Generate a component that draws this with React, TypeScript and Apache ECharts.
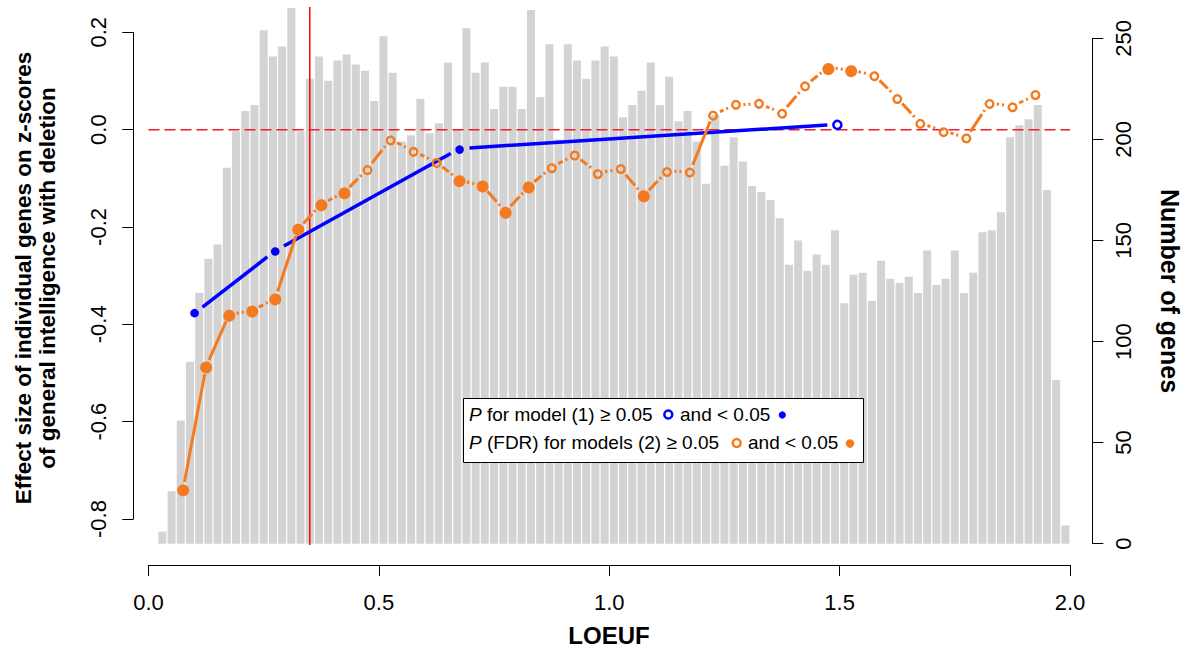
import React, { useEffect, useRef } from "react";
import * as echarts from "echarts";

// Histogram: number of genes per LOEUF bin (bins of 0.02 starting at 0.02)
const binStart = 0.02;
const binWidth = 0.02;
const geneCounts = [
  6, 26, 61, 90, 124, 141, 148, 186, 204, 214,
  217, 254, 241, 246, 265, 204, 230, 241, 229, 239,
  242, 237, 234, 219, 251, 233, 199, 202, 220, 203,
  208, 238, 205, 255, 233, 238, 215, 226, 226, 215,
  264, 221, 247, 200, 247, 239, 230, 239, 246, 241,
  211, 217, 224, 238, 217, 231, 209, 214, 199, 178,
  212, 187, 201, 189, 177, 174, 170, 161, 138, 150,
  135, 143, 138, 155, 119, 133, 134, 120, 140, 131,
  129, 132, 124, 145, 128, 131, 145, 124, 134, 154,
  155, 164, 201, 207, 210, 217, 175, 81, 9,
];

// Model (2): effect sizes per LOEUF bin (orange)
const orangeX = [
  0.075, 0.125, 0.175, 0.225, 0.275, 0.325, 0.375, 0.425, 0.475, 0.525,
  0.575, 0.625, 0.675, 0.725, 0.775, 0.825, 0.875, 0.925, 0.975, 1.025,
  1.075, 1.125, 1.175, 1.225, 1.275, 1.325, 1.375, 1.425, 1.475, 1.525,
  1.575, 1.625, 1.675, 1.725, 1.775, 1.825, 1.875, 1.925,
];
const orangeY = [
  -0.739, -0.487, -0.38, -0.372, -0.347, -0.204, -0.153, -0.129, -0.081, -0.02,
  -0.044, -0.067, -0.104, -0.115, -0.169, -0.117, -0.077, -0.052, -0.089, -0.081,
  -0.136, -0.085, -0.087, 0.031, 0.051, 0.053, 0.035, 0.09, 0.128, 0.122,
  0.112, 0.065, 0.013, -0.002, -0.017, 0.055, 0.048, 0.071,
];
// 1 = FDR P < 0.05 (filled), 0 = not significant (open)
const orangeSig = [
  1, 1, 1, 1, 1, 1, 1, 1, 0, 0,
  0, 0, 1, 1, 1, 1, 0, 0, 0, 0,
  1, 0, 0, 0, 0, 0, 0, 0, 1, 1,
  0, 0, 0, 0, 0, 0, 0, 0,
];

// Model (1): effect sizes (blue)
const blueX = [0.1, 0.275, 0.675, 1.495];
const blueY = [-0.377, -0.249, -0.039, 0.011];
const blueSig = [1, 1, 1, 0];

const refLoeuf = 0.35;
const refEffect = 0;

const xTickLabels = ["0.0", "0.5", "1.0", "1.5", "2.0"];

const FONT = '"Liberation Sans", Arial, Helvetica, sans-serif';
const ORANGE = "#F47A20";
const BLUE = "#0000FF";
const BAR = "#D3D3D3";

type SegOpts = { gap: number; lw: number; rFill: number; rRing: number; ringLw: number; dashShort: boolean };

function makeRender(xs: number[], ys: number[], sig: number[], color: string, o: SegOpts) {
  return (params: any, api: any) => {
    const i = params.dataIndex;
    const p = api.coord([api.value(0), api.value(1)]);
    const children: any[] = [];
    if (i < xs.length - 1) {
      const q = api.coord([xs[i + 1], ys[i + 1]]);
      const dx = q[0] - p[0];
      const dy = q[1] - p[1];
      const len = Math.hypot(dx, dy);
      const ux = dx / len;
      const uy = dy / len;
      const vis = len - 2 * o.gap;
      if (vis > 1) {
        const style: any = { stroke: color, lineWidth: o.lw, lineCap: "butt", fill: "none" };
        if (o.dashShort && vis < 30) style.lineDash = [Math.max(vis - 6, 2), 3, 2, 80];
        children.push({
          type: "line",
          shape: {
            x1: p[0] + ux * o.gap,
            y1: p[1] + uy * o.gap,
            x2: q[0] - ux * o.gap,
            y2: q[1] - uy * o.gap,
          },
          style,
        });
      }
    }
    if (sig[i]) {
      children.push({ type: "circle", shape: { cx: p[0], cy: p[1], r: o.rFill }, style: { fill: color } });
    } else {
      children.push({
        type: "circle",
        shape: { cx: p[0], cy: p[1], r: o.rRing },
        style: { fill: "none", stroke: color, lineWidth: o.ringLw },
      });
    }
    return { type: "group", children };
  };
}

const axisLabelBase = { color: "#000", fontFamily: FONT, fontSize: 22 };

function legendText(x: number, y: number, text: string) {
  return {
    type: "text",
    z: 101,
    x,
    y,
    style: {
      text,
      fontFamily: FONT,
      fontSize: 19,
      fill: "#000",
      verticalAlign: "middle",
      textVerticalAlign: "middle",
      rich: { i: { fontStyle: "italic", fontFamily: FONT, fontSize: 19, fill: "#000" } },
    },
  };
}

export default function App() {
  const ref = useRef<HTMLDivElement>(null);

  useEffect(() => {
    if (!ref.current) return;
    const chart = echarts.init(ref.current, undefined, { renderer: "svg" });

    const gridLeft = 148.5;
    const gridWidth = 921.5;

    const option: any = {
      animation: false,
      backgroundColor: "#fff",
      grid: [
        { left: gridLeft, top: 38.3, width: gridWidth, height: 505.4 },
        { left: gridLeft, top: 32.3, width: gridWidth, height: 486.7 },
        { left: gridLeft, top: 7, width: gridWidth, height: 538 },
      ],
      xAxis: [
        { gridIndex: 0, type: "value", min: 0, max: 2, show: false },
        { gridIndex: 1, type: "value", min: 0, max: 2, show: false },
        {
          gridIndex: 2,
          type: "value",
          min: 0,
          max: 2,
          interval: 0.5,
          position: "bottom",
          offset: 20,
          axisLine: { show: true, onZero: false, lineStyle: { color: "#000", width: 1 } },
          axisTick: { show: true, inside: false, length: 11, lineStyle: { color: "#000", width: 1 } },
          axisLabel: {
            ...axisLabelBase,
            margin: 26,
            formatter: (v: number) => xTickLabels[Math.round(v / 0.5)] ?? v.toFixed(1),
          },
          splitLine: { show: false },
        },
      ],
      yAxis: [
        {
          gridIndex: 0,
          type: "value",
          min: 0,
          max: 250,
          interval: 50,
          position: "right",
          offset: 22.3,
          axisLine: { show: true, onZero: false, lineStyle: { color: "#000", width: 1 } },
          axisTick: { show: true, inside: false, length: 11, lineStyle: { color: "#000", width: 1 } },
          axisLabel: { ...axisLabelBase, rotate: 90, margin: 20 },
          splitLine: { show: false },
        },
        {
          gridIndex: 1,
          type: "value",
          min: -0.8,
          max: 0.2,
          interval: 0.2,
          position: "left",
          offset: 15.2,
          axisLine: { show: true, onZero: false, lineStyle: { color: "#000", width: 1 } },
          axisTick: { show: true, inside: false, length: 11, lineStyle: { color: "#000", width: 1 } },
          axisLabel: {
            ...axisLabelBase,
            rotate: 90,
            margin: 24,
            formatter: (v: number) => (Math.abs(v) < 1e-9 ? "0.0" : v.toFixed(1)),
          },
          splitLine: { show: false },
        },
        { gridIndex: 2, type: "value", min: 0, max: 1, show: false },
      ],
      series: [
        {
          type: "bar",
          xAxisIndex: 0,
          yAxisIndex: 0,
          clip: false,
          barWidth: 8,
          itemStyle: { color: BAR },
          data: geneCounts.map((c, i) => [binStart + (i + 0.5) * binWidth, c]),
          z: 1,
        },
        {
          type: "custom",
          xAxisIndex: 2,
          yAxisIndex: 2,
          z: 2,
          data: [[refLoeuf]],
          encode: { x: 0 },
          renderItem: (params: any, api: any) => {
            const a = api.coord([api.value(0), 0]);
            const b = api.coord([api.value(0), 1]);
            return {
              type: "line",
              shape: { x1: a[0], y1: a[1], x2: b[0], y2: b[1] },
              style: { stroke: "#FF0000", lineWidth: 1.5 },
            };
          },
        },
        {
          type: "custom",
          xAxisIndex: 1,
          yAxisIndex: 1,
          z: 2,
          data: [[0, refEffect]],
          encode: { x: 0, y: 1 },
          renderItem: (params: any, api: any) => {
            const a = api.coord([0, api.value(1)]);
            const b = api.coord([2, api.value(1)]);
            return {
              type: "line",
              shape: { x1: a[0], y1: a[1], x2: b[0], y2: b[1] },
              style: { stroke: "#E8202A", lineWidth: 1.5, lineDash: [11, 5] },
            };
          },
        },
        {
          type: "custom",
          xAxisIndex: 1,
          yAxisIndex: 1,
          z: 3,
          data: blueX.map((x, i) => [x, blueY[i], blueSig[i]]),
          encode: { x: 0, y: 1 },
          renderItem: makeRender(blueX, blueY, blueSig, BLUE, {
            gap: 10,
            lw: 3.5,
            rFill: 4.3,
            rRing: 4,
            ringLw: 2.5,
            dashShort: false,
          }),
        },
        {
          type: "custom",
          xAxisIndex: 1,
          yAxisIndex: 1,
          z: 4,
          data: orangeX.map((x, i) => [x, orangeY[i], orangeSig[i]]),
          encode: { x: 0, y: 1 },
          renderItem: makeRender(orangeX, orangeY, orangeSig, ORANGE, {
            gap: 7.5,
            lw: 3,
            rFill: 6,
            rRing: 3.8,
            ringLw: 2.4,
            dashShort: true,
          }),
        },
      ],
      graphic: [
        {
          type: "text",
          x: 23.5,
          y: 278,
          rotation: Math.PI / 2,
          style: {
            text: "Effect size of individual genes on z-scores",
            fontFamily: FONT,
            fontSize: 22.5,
            fontWeight: "bold",
            fill: "#000",
            align: "center",
            verticalAlign: "middle",
            textAlign: "center",
            textVerticalAlign: "middle",
          },
        },
        {
          type: "text",
          x: 47,
          y: 278,
          rotation: Math.PI / 2,
          style: {
            text: "of general intelligence with deletion",
            fontFamily: FONT,
            fontSize: 22.5,
            fontWeight: "bold",
            fill: "#000",
            align: "center",
            verticalAlign: "middle",
            textAlign: "center",
            textVerticalAlign: "middle",
          },
        },
        {
          type: "text",
          x: 1170,
          y: 291,
          rotation: -Math.PI / 2,
          style: {
            text: "Number of genes",
            fontFamily: FONT,
            fontSize: 25,
            fontWeight: "bold",
            fill: "#000",
            align: "center",
            verticalAlign: "middle",
            textAlign: "center",
            textVerticalAlign: "middle",
          },
        },
        {
          type: "text",
          x: 609,
          y: 635.5,
          style: {
            text: "LOEUF",
            fontFamily: FONT,
            fontSize: 24,
            fontWeight: "bold",
            fill: "#000",
            align: "center",
            verticalAlign: "middle",
            textAlign: "center",
            textVerticalAlign: "middle",
          },
        },
        {
          type: "rect",
          z: 100,
          shape: { x: 463.5, y: 398.5, width: 400, height: 64 },
          style: { fill: "#fff", stroke: "#000", lineWidth: 1 },
        },
        legendText(469, 414.2, "{i|P} for model (1) ≥ 0.05"),
        {
          type: "circle",
          z: 101,
          shape: { cx: 668.3, cy: 414.5, r: 4 },
          style: { fill: "none", stroke: BLUE, lineWidth: 2.5 },
        },
        legendText(680, 414.2, "and < 0.05"),
        {
          type: "circle",
          z: 101,
          shape: { cx: 782.3, cy: 415, r: 3.6 },
          style: { fill: BLUE },
        },
        legendText(469, 442.5, "{i|P} (FDR) for models (2) ≥ 0.05"),
        {
          type: "circle",
          z: 101,
          shape: { cx: 736.7, cy: 443, r: 4 },
          style: { fill: "none", stroke: ORANGE, lineWidth: 2.5 },
        },
        legendText(748, 442.5, "and < 0.05"),
        {
          type: "circle",
          z: 101,
          shape: { cx: 850, cy: 443.5, r: 4.2 },
          style: { fill: ORANGE },
        },
      ],
    };

    chart.setOption(option);
    return () => chart.dispose();
  }, []);

  return (
    <div
      ref={ref}
      style={{ position: "absolute", left: 0, top: 0, width: 1189, height: 649, background: "#fff" }}
    />
  );
}
